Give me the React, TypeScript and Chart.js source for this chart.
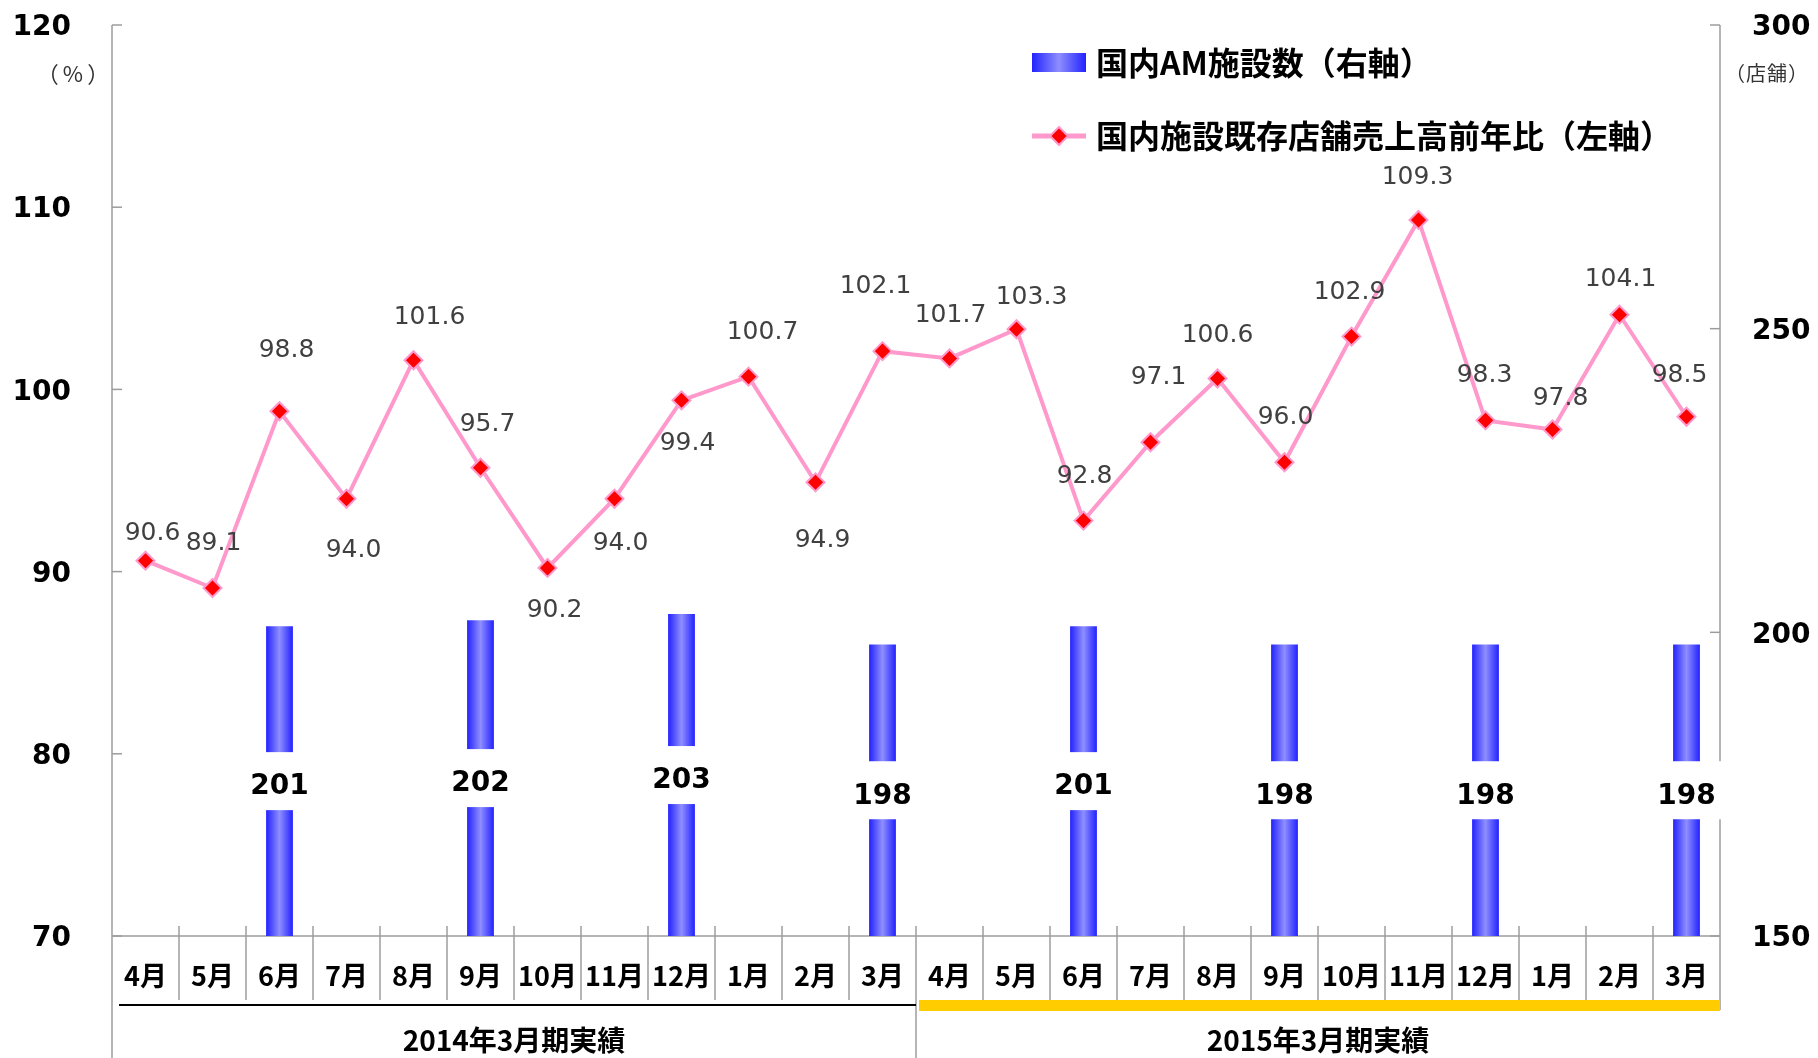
import React, { useEffect, useRef } from "react";
import { Chart, registerables } from "chart.js";

Chart.register(...registerables);

// ---- data ----
const CATEGORIES = [
  "4月", "5月", "6月", "7月", "8月", "9月", "10月", "11月", "12月", "1月", "2月", "3月",
  "4月", "5月", "6月", "7月", "8月", "9月", "10月", "11月", "12月", "1月", "2月", "3月",
];
const PERIODS = ["2014年3月期実績", "2015年3月期実績"];
const LINE_VALUES = [
  90.6, 89.1, 98.8, 94.0, 101.6, 95.7, 90.2, 94.0, 99.4, 100.7, 94.9, 102.1,
  101.7, 103.3, 92.8, 97.1, 100.6, 96.0, 102.9, 109.3, 98.3, 97.8, 104.1, 98.5,
];
const BAR_VALUES: (number | null)[] = [
  null, null, 201, null, null, 202, null, null, 203, null, null, 198,
  null, null, 201, null, null, 198, null, null, 198, null, null, 198,
];
const LEFT_MIN = 70, LEFT_MAX = 120, LEFT_STEP = 10;
const RIGHT_MIN = 150, RIGHT_MAX = 300, RIGHT_STEP = 50;
const LEGEND_BAR = "国内AM施設数（右軸）";
const LEGEND_LINE = "国内施設既存店舗売上高前年比（左軸）";
const LEFT_UNIT = "（%）";
const RIGHT_UNIT = "（店舗）";

// ---- label placement (px offsets from each point) ----
const LINE_LABEL_OFFSETS: [number, number][] = [
  [7, -27], [1, -44], [7, -61], [7, 52], [16, -43], [7, -43], [7, 43], [6, 45],
  [6, 43], [14, -44], [7, 58], [-7, -65], [1, -43], [15, -32], [1, -44], [8, -65],
  [0, -43], [1, -45], [-2, -44], [-1, -42], [-1, -45], [8, -31], [1, -35], [-7, -41],
];

// ---- styles ----
const W = 1818, H = 1058;
const AXIS_COLOR = "#9c9c9c";
const LINE_COLOR = "#ff99cc";
const MARKER_COLOR = "#ff0000";
const BAR_EDGE = "#2222ff";
const BAR_MID = "#8e8eff";
const BAR_PCT = 0.4;
const NUM_FONT = "'DejaVu Sans', Verdana, sans-serif";
const JP_FONT = "'Noto Sans CJK JP', sans-serif";

function barGradient(ctx: CanvasRenderingContext2D, x0: number, x1: number) {
  const g = ctx.createLinearGradient(x0, 0, x1, 0);
  g.addColorStop(0, BAR_EDGE);
  g.addColorStop(0.5, BAR_MID);
  g.addColorStop(1, BAR_EDGE);
  return g;
}

function seg(ctx: CanvasRenderingContext2D, x0: number, y0: number, x1: number, y1: number) {
  ctx.beginPath();
  ctx.moveTo(x0, y0);
  ctx.lineTo(x1, y1);
  ctx.stroke();
}

const decorPlugin = {
  id: "decor",
  beforeDatasetsDraw(chart: any) {
    const { ctx, chartArea: a, scales } = chart;
    const xs = scales.x, ys = scales.y, y1s = scales.y1;
    const n = CATEGORIES.length;
    ctx.save();
    ctx.strokeStyle = AXIS_COLOR;
    ctx.lineWidth = 1.5;
    // axis lines
    seg(ctx, a.left, a.top, a.left, chart.height);
    seg(ctx, a.right, a.top, a.right, a.bottom + 74);
    seg(ctx, a.left, a.bottom, a.right, a.bottom);
    // inward ticks
    ys.ticks.forEach((t: any) => {
      const py = ys.getPixelForValue(t.value);
      seg(ctx, a.left, py, a.left + 10, py);
    });
    y1s.ticks.forEach((t: any) => {
      const py = y1s.getPixelForValue(t.value);
      seg(ctx, a.right - 10, py, a.right, py);
    });
    // category separators
    const half = n / 2;
    let divider = 0;
    for (let i = 1; i < n; i++) {
      const px = (xs.getPixelForValue(i - 1) + xs.getPixelForValue(i)) / 2;
      if (i === half) {
        divider = px;
        seg(ctx, px, a.bottom - 10, px, chart.height);
      } else {
        seg(ctx, px, a.bottom - 10, px, a.bottom + 64);
      }
    }
    // period underlines
    ctx.strokeStyle = "#000";
    ctx.lineWidth = 2;
    seg(ctx, a.left + 7, a.bottom + 69, divider, a.bottom + 69);
    ctx.fillStyle = "#ffcc00";
    ctx.fillRect(divider + 3, a.bottom + 64, a.right - divider - 3, 11);
    // period labels
    ctx.fillStyle = "#000";
    ctx.font = `bold 28px ${JP_FONT}`;
    ctx.textAlign = "center";
    ctx.textBaseline = "middle";
    ctx.fillText(PERIODS[0], (a.left + divider) / 2, a.bottom + 104);
    ctx.fillText(PERIODS[1], (divider + a.right) / 2, a.bottom + 104);
    ctx.restore();
  },
  afterDatasetsDraw(chart: any) {
    const { ctx, scales } = chart;
    const xs = scales.x, y1s = scales.y1;
    ctx.save();
    // bar labels with white boxes
    ctx.font = `bold 28px ${NUM_FONT}`;
    ctx.textAlign = "center";
    ctx.textBaseline = "middle";
    BAR_VALUES.forEach((v, i) => {
      if (v == null) return;
      const x = xs.getPixelForValue(i);
      const top = y1s.getPixelForValue(v);
      const base = y1s.getPixelForValue(RIGHT_MIN);
      const cy = (top + base) / 2;
      ctx.fillStyle = "#ffffff";
      ctx.fillRect(x - 42, cy - 29, 84, 58);
      ctx.fillStyle = "#000000";
      ctx.fillText(String(v), x, cy + 6);
    });
    // line labels
    const lineMeta = chart.getDatasetMeta(1);
    ctx.font = `25px ${NUM_FONT}`;
    ctx.fillStyle = "#404040";
    lineMeta.data.forEach((el: any, i: number) => {
      const x = el.x, y = el.y;
      const [dx, dy] = LINE_LABEL_OFFSETS[i];
      ctx.fillText(LINE_VALUES[i].toFixed(1), x + dx, y + dy);
    });
    ctx.restore();
  },
  afterDraw(chart: any) {
    const { ctx } = chart;
    ctx.save();
    // unit labels
    ctx.fillStyle = "#333";
    (ctx as any).fontKerning = "none";
    ctx.textAlign = "center";
    ctx.textBaseline = "middle";
    ctx.font = `22px ${JP_FONT}`;
    (ctx as any).letterSpacing = "4px";
    ctx.fillText(LEFT_UNIT, 75, 74);
    ctx.font = `20px ${JP_FONT}`;
    (ctx as any).letterSpacing = "1px";
    ctx.fillText(RIGHT_UNIT, 1767, 73);
    (ctx as any).letterSpacing = "0px";
    // legend
    const lx0 = 1032, lx1 = 1086;
    ctx.fillStyle = barGradient(ctx, lx0, lx1);
    ctx.fillRect(lx0, 53, lx1 - lx0, 19);
    ctx.strokeStyle = LINE_COLOR;
    ctx.lineWidth = 5;
    seg(ctx, lx0, 136, lx1, 136);
    const mx = (lx0 + lx1) / 2, my = 136, r = 9;
    ctx.beginPath();
    ctx.moveTo(mx, my - r);
    ctx.lineTo(mx + r, my);
    ctx.lineTo(mx, my + r);
    ctx.lineTo(mx - r, my);
    ctx.closePath();
    ctx.fillStyle = MARKER_COLOR;
    ctx.fill();
    ctx.lineWidth = 2;
    ctx.stroke();
    ctx.fillStyle = "#000";
    ctx.font = `bold 32px ${JP_FONT}`;
    ctx.textAlign = "left";
    ctx.fillText(LEGEND_BAR, 1096, 63);
    ctx.fillText(LEGEND_LINE, 1096, 136);
    ctx.restore();
  },
};

function fixVertical(width: number) {
  return (s: any) => {
    s.width = width;
    s.paddingTop = 0;
    s.paddingBottom = 0;
  };
}

export default function App() {
  const ref = useRef<HTMLCanvasElement | null>(null);
  useEffect(() => {
    if (!ref.current) return;
    const chart = new Chart(ref.current, {
      type: "bar",
      data: {
        labels: CATEGORIES,
        datasets: [
          {
            type: "bar",
            data: BAR_VALUES as any,
            yAxisID: "y1",
            order: 2,
            categoryPercentage: 1,
            barPercentage: BAR_PCT,
            backgroundColor: (c: any) => {
              const ch = c.chart;
              const xs = ch.scales && ch.scales.x;
              if (!xs || typeof c.dataIndex !== "number") return BAR_EDGE;
              const cx = xs.getPixelForValue(c.dataIndex);
              const w = (xs.width / CATEGORIES.length) * BAR_PCT;
              if (!isFinite(cx) || !isFinite(w) || w <= 0) return BAR_EDGE;
              return barGradient(ch.ctx, cx - w / 2, cx + w / 2);
            },
            borderWidth: 0,
          } as any,
          {
            type: "line",
            data: LINE_VALUES,
            yAxisID: "y",
            order: 1,
            borderColor: LINE_COLOR,
            borderWidth: 4,
            tension: 0,
            pointStyle: "rectRot",
            pointRadius: 9,
            pointBackgroundColor: MARKER_COLOR,
            pointBorderColor: LINE_COLOR,
            pointBorderWidth: 2,
          } as any,
        ],
      },
      options: {
        responsive: false,
        animation: false,
        devicePixelRatio: 1,
        layout: { padding: { top: 25, left: 0, right: 0, bottom: 0 } },
        plugins: { legend: { display: false }, tooltip: { enabled: false } },
        scales: {
          x: {
            type: "category",
            offset: true,
            grid: { display: false, drawTicks: false },
            border: { display: false },
            ticks: {
              autoSkip: false,
              maxRotation: 0,
              padding: 24,
              color: "#000",
              font: { family: JP_FONT, size: 27, weight: "bold" },
            },
            afterFit: (s: any) => { s.height = 122; s.paddingLeft = 0; s.paddingRight = 0; },
          },
          y: {
            type: "linear",
            position: "left",
            min: LEFT_MIN,
            max: LEFT_MAX,
            grid: { display: false, drawTicks: false },
            border: { display: false },
            ticks: {
              stepSize: LEFT_STEP,
              padding: 41,
              labelOffset: 3,
              color: "#000",
              font: { family: NUM_FONT, size: 28, weight: "bold" },
            },
            afterFit: fixVertical(112),
          },
          y1: {
            type: "linear",
            position: "right",
            min: RIGHT_MIN,
            max: RIGHT_MAX,
            grid: { display: false, drawTicks: false },
            border: { display: false },
            ticks: {
              stepSize: RIGHT_STEP,
              padding: 32,
              labelOffset: 3,
              color: "#000",
              font: { family: NUM_FONT, size: 28, weight: "bold" },
            },
            afterFit: fixVertical(98),
          },
        },
      } as any,
      plugins: [decorPlugin as any],
    });
    return () => chart.destroy();
  }, []);
  return (
    <div style={{ position: "fixed", left: 0, top: 0, width: W, height: H, background: "#fff" }}>
      <canvas ref={ref} width={W} height={H} style={{ width: W, height: H, display: "block" }} />
    </div>
  );
}
